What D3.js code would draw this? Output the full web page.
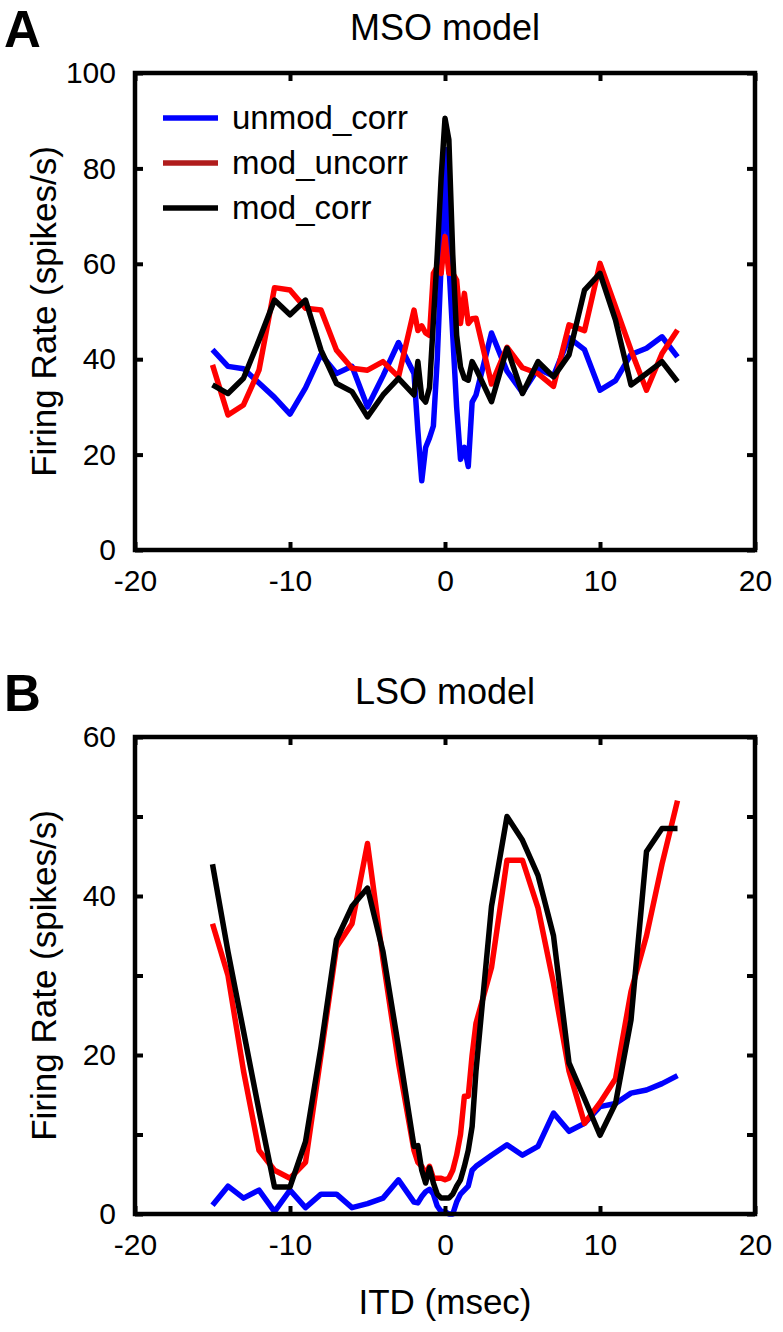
<!DOCTYPE html>
<html>
<head>
<meta charset="utf-8">
<script src="https://cdn.jsdelivr.net/npm/d3@7"></script>
<style>
  html, body { margin: 0; padding: 0; background: #fff; }
  svg { display: block; }
  text { font-family: "Liberation Sans", Arial, Helvetica, sans-serif; fill: #000; }
</style>
</head>
<body>
<svg id="chart" width="783" height="1332"></svg>
<script>
// ITD values (msec)
const itd = [-15,-14,-13,-12,-11,-10,-9,-8,-7,-6,-5,-4,-3,
  -2,-1.75,-1.5,-1.25,-1,-0.75,-0.5,-0.25,0,0.25,0.5,0.75,1,1.25,1.5,1.75,2,
  3,4,5,6,7,8,9,10,11,12,13,14,15];

// Panel A: MSO model (spikes/s)
const msoUnmodCorr = [42,38.5,38,35,32,28.5,34,41,37,38.5,30,36.5,43.5,
  37,25,14.5,21.5,23.5,26,40,60,84,60,45,30,19,21.5,17.5,31,32.5,
  45.5,37.5,33,38,36.5,44.5,42,33.5,35.5,41,42.3,44.7,40.5];
const msoModUncorr = [38.8,28.3,30.4,37.7,55,54.5,50.7,50.3,41.9,38.1,37.7,39.5,36.3,
  50.3,46,47,45.5,45,58,59.4,58,65.7,58,58,56.6,47.5,53.8,47.5,48.5,48.6,
  34.8,42.5,38.2,37,34.3,47.2,46,60.1,51,41.9,33.5,41.2,46.1];
const msoModCorr = [34.6,32.8,36,44,52.4,49.3,52.4,41.9,34.9,33.2,27.9,32.5,36,
  32.5,39.5,32,31,34,48,62,78,90.5,86,62,45,38.4,36,35.6,39.5,38,
  31.1,42.3,32.8,39.5,36.3,40.9,54.5,58,48.2,34.6,37,39.5,35.3];

// Panel B: LSO model (spikes/s)
const lsoUnmodCorr = [1.1,3.5,2,3,0.3,3,0.8,2.5,2.5,0.8,1.3,2,4.3,
  1.5,1.4,2.2,2.8,3.1,2.5,1,0.3,0.3,0,0,1.5,2.5,3,3.5,5.5,6,
  7.4,8.7,7.4,8.5,12.7,10.4,11.4,13.5,13.9,15.2,15.6,16.4,17.4];
const lsoModUncorr = [36.5,30,18,8,5.5,4.5,6.5,20,33.6,36.5,46.6,32,19,
  8,6.5,6,5,6,4.5,4.5,4.5,4.3,4.5,5.5,7.4,10,14.8,14.8,20,24,
  31,44.5,44.5,38.5,29,18,11.4,14,17,28,35,44,52];
const lsoModCorr = [44,33,23,13,3.4,3.4,9.1,21,34.5,38.7,41,33,21,
  8.5,8.6,5.5,3.9,5.8,3.9,2.5,2,2,2,2.5,3.5,4.3,6,8,11,18,
  38.7,50,47,42.6,35,19,14.5,9.9,13.9,24.4,45.6,48.5,48.5];

const seriesNames = ["unmod_corr", "mod_uncorr", "mod_corr"];
const lineColors = ["#0000ff", "#ff0000", "#000000"];
const legendColors = ["#0000ff", "#b01c1c", "#000000"];

const xTicks = [-20, -10, 0, 10, 20];
const yTicksA = [0, 20, 40, 60, 80, 100];
const yTicksB = [0, 10, 20, 30, 40, 50, 60];
const yLabelsB = [0, 20, 40, 60];

const svg = d3.select("#chart");
const fmt = d => String(d); // plain hyphen-minus like the original

function panel(opts) {
  const {left, right, top, bottom, yMax, yTicks, yLabelFilter, series, title, letter, xLabel, legend} = opts;
  const g = svg.append("g");
  const x = d3.scaleLinear().domain([-20, 20]).range([left, right]);
  const y = d3.scaleLinear().domain([0, yMax]).range([bottom, top]);

  // data lines
  const line = d3.line().x((d, i) => x(itd[i])).y(d => y(d));
  series.forEach((s, k) => {
    g.append("path").datum(s)
      .attr("d", line)
      .attr("fill", "none")
      .attr("stroke", lineColors[k])
      .attr("stroke-width", 5.5)
      .attr("stroke-linejoin", "round")
      .attr("stroke-linecap", "butt");
  });

  const tickLen = 8;
  const axB = d3.axisBottom(x).tickValues(xTicks).tickSize(-tickLen).tickPadding(tickLen + 12).tickFormat(fmt);
  const axT = d3.axisTop(x).tickValues(xTicks).tickSize(-tickLen).tickFormat("");
  const axL = d3.axisLeft(y).tickValues(yTicks).tickSize(-tickLen).tickPadding(tickLen + 11)
    .tickFormat(d => yLabelFilter(d) ? fmt(d) : "");
  const axR = d3.axisRight(y).tickValues(yTicks).tickSize(-tickLen).tickFormat("");

  const gb = g.append("g").attr("transform", `translate(0,${bottom})`).call(axB);
  const gt = g.append("g").attr("transform", `translate(0,${top})`).call(axT);
  const gl = g.append("g").attr("transform", `translate(${left},0)`).call(axL);
  const gr = g.append("g").attr("transform", `translate(${right},0)`).call(axR);
  [gb, gt, gl, gr].forEach(a => {
    a.select(".domain").remove();
    a.selectAll(".tick line").attr("stroke", "#000").attr("stroke-width", 4);
    a.selectAll(".tick text").attr("font-size", 30).attr("fill", "#000")
      .style("font-family", '"Liberation Sans", Arial, sans-serif');
  });
  gb.selectAll(".tick text").attr("dy", "0.71em");

  // frame
  g.append("rect")
    .attr("x", left).attr("y", top)
    .attr("width", right - left).attr("height", bottom - top)
    .attr("fill", "none").attr("stroke", "#000").attr("stroke-width", 4.5);

  g.append("text").attr("x", (left + right) / 2).attr("y", top - 33)
    .attr("text-anchor", "middle").attr("font-size", 36).text(title);
  g.append("text").attr("x", 4).attr("y", top - 26)
    .attr("font-size", 51).attr("font-weight", "bold").text(letter);
  g.append("text")
    .attr("transform", `translate(56,${(top + bottom) / 2}) rotate(-90)`)
    .attr("text-anchor", "middle").attr("font-size", 35).text("Firing Rate (spikes/s)");
  if (xLabel) {
    g.append("text").attr("x", (left + right) / 2).attr("y", bottom + 100)
      .attr("text-anchor", "middle").attr("font-size", 35).text(xLabel);
  }
  if (legend) {
    seriesNames.forEach((n, k) => {
      const ly = top + 45 + k * 45;
      g.append("line").attr("x1", left + 28).attr("x2", left + 83)
        .attr("y1", ly).attr("y2", ly)
        .attr("stroke", legendColors[k]).attr("stroke-width", 5.5);
      g.append("text").attr("x", left + 97).attr("y", ly + 11)
        .attr("font-size", 33).text(n);
    });
  }
}

panel({left: 135, right: 755, top: 73, bottom: 550, yMax: 100, yTicks: yTicksA,
  yLabelFilter: d => true,
  series: [msoUnmodCorr, msoModUncorr, msoModCorr],
  title: "MSO model", letter: "A", xLabel: null, legend: true});

panel({left: 135, right: 755, top: 737, bottom: 1214, yMax: 60, yTicks: yTicksB,
  yLabelFilter: d => yLabelsB.includes(d),
  series: [lsoUnmodCorr, lsoModUncorr, lsoModCorr],
  title: "LSO model", letter: "B", xLabel: "ITD (msec)", legend: false});
</script>
</body>
</html>
